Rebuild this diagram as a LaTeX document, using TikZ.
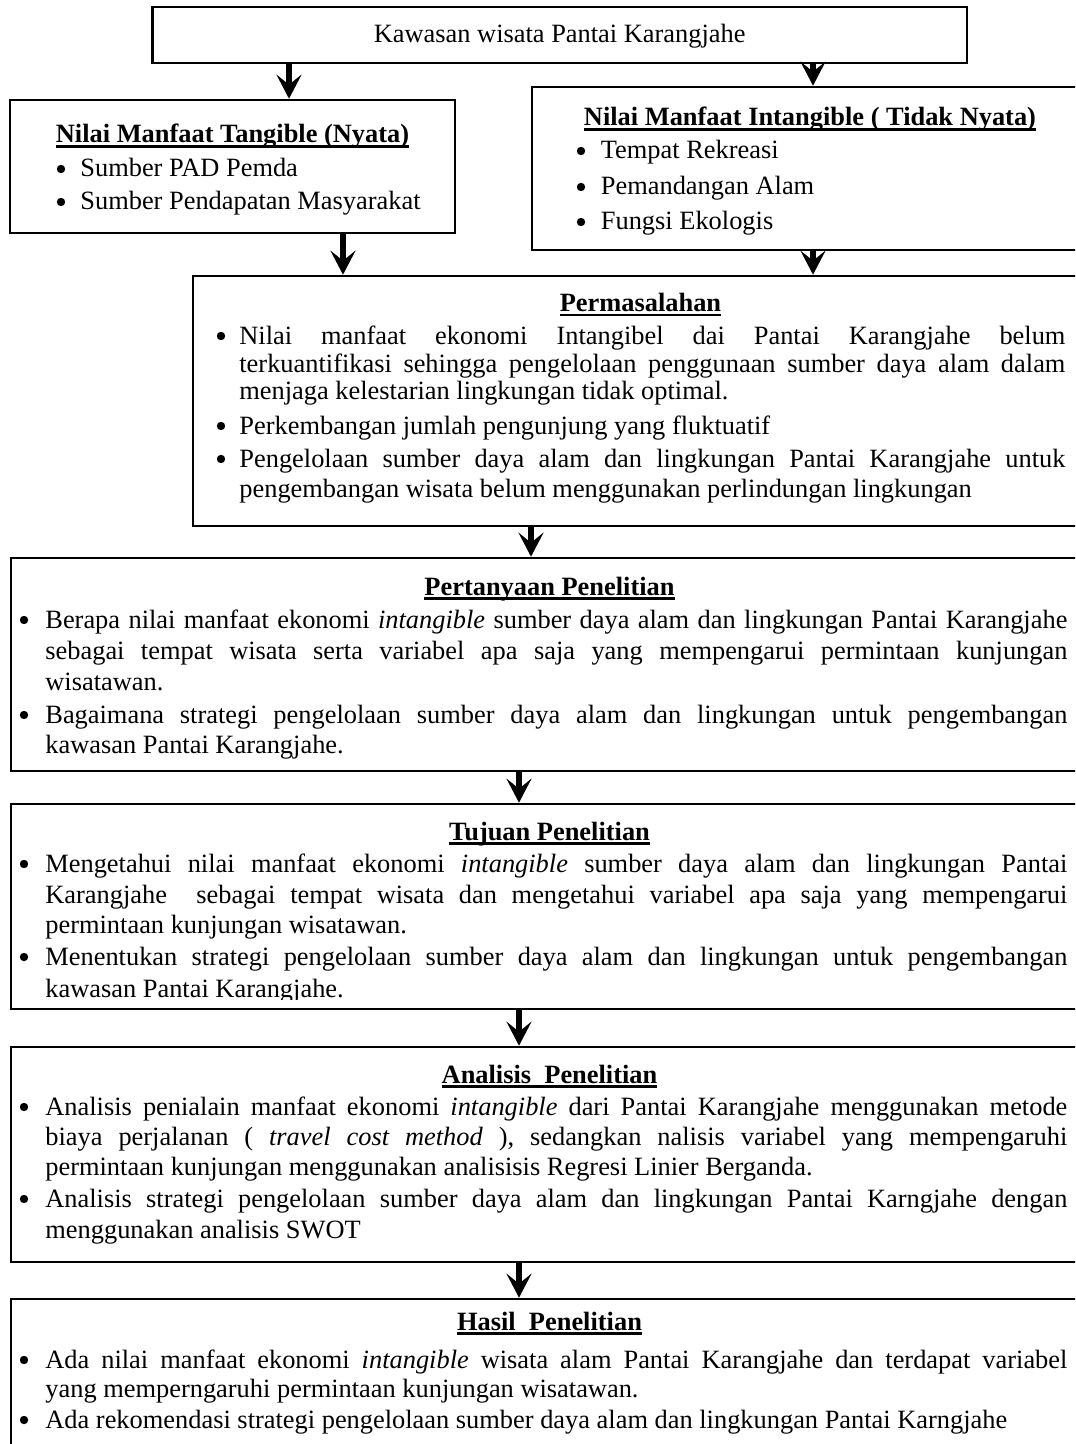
\documentclass[tikz,border=0pt]{standalone}
\usepackage{fontspec}
\setmainfont{Liberation Serif}
\usetikzlibrary{arrows.meta,fit}
\newcommand\myul[1]{\setbox0\hbox{#1}\rlap{\rule[-2.3pt]{\wd0}{1.1pt}}\box0}
\newcommand\jl[2]{\makebox[#1][s]{#2}}
\frenchspacing
\begin{document}
\begin{tikzpicture}[x=0.5pt,y=-0.5pt,
  box/.style={draw, line width=1.3pt, rectangle, inner sep=0pt},
  txt/.style={inner sep=0pt, anchor=base west, font=\fontsize{13.2pt}{15pt}\selectfont},
  ttl/.style={inner sep=0pt, anchor=base, font=\fontsize{13.2pt}{15pt}\selectfont\bfseries},
  bul/.style={inner sep=0pt, anchor=base, font=\fontsize{13.2pt}{15pt}\selectfont},
  dot/.style={circle, fill=black, inner sep=0pt, minimum size=4.2pt},
  arr/.style={line width=2.6pt, -{Stealth[length=12pt,width=12.5pt,inset=5pt]}}
]
\useasboundingbox (0,0) rectangle (1075,1444);
\clip (0,0) rectangle (1075,1444);
\fill[white] (0,0) rectangle (1075,1444);

% boxes
\node[box, fit={(152.5,7) (967,63)}] (t0) {};
\node[box, fit={(10,100) (455,233)}] (b1) {};
\node[box, fit={(532,87) (1088,250)}] (b2) {};
\node[box, fit={(193,276) (1088,526)}] (b3) {};
\node[box, fit={(11,558) (1088,771)}] (b4) {};
\node[box, fit={(11,804) (1088,1009)}] (b5) {};
\node[box, fit={(11,1047) (1088,1262)}] (b6) {};
\node[box, fit={(11,1299) (1088,1520)}] (b7) {};

% arrows
\coordinate (xa1) at (289,0);
\coordinate (xa2) at (813,0);
\coordinate (xa3) at (343,0);
\coordinate (xa5) at (531,0);
\coordinate (xa6) at (519,0);
\draw[arr] (t0.south -| xa1) -- (b1.north -| xa1);
\draw[arr] (t0.south -| xa2) -- (b2.north -| xa2);
\draw[arr] (b1.south -| xa3) -- (b3.north -| xa3);
\draw[arr] (b2.south -| xa2) -- (b3.north -| xa2);
\draw[arr] (b3.south -| xa5) -- (b4.north -| xa5);
\draw[arr] (b4.south -| xa6) -- (b5.north -| xa6);
\draw[arr] (b5.south -| xa6) -- (b6.north -| xa6);
\draw[arr] (b6.south -| xa6) -- (b7.north -| xa6);

% top
\node[bul] (t0t) at (559.7,43) {Kawasan wisata Pantai Karangjahe};

% tangible
\node[ttl] (b1t) at (232.5,143) {\myul{Nilai Manfaat Tangible (Nyata)}};
\node[dot] (b1d1) at (61,169) {};
\node[dot] (b1d2) at (61,202) {};
\node[txt] (b1l1) at (80,177) {Sumber PAD Pemda};
\node[txt] (b1l2) at (80,210) {Sumber Pendapatan Masyarakat};

% intangible
\node[ttl] (b2t) at (810,126) {\myul{Nilai Manfaat Intangible ( Tidak Nyata)}};
\node[dot] (b2d1) at (581,151) {};
\node[dot] (b2d2) at (581,187) {};
\node[dot] (b2d3) at (581,222) {};
\node[txt] (b2l1) at (600.5,159) {Tempat Rekreasi};
\node[txt] (b2l2) at (600.5,195) {Pemandangan Alam};
\node[txt] (b2l3) at (600.5,230) {Fungsi Ekologis};

% permasalahan
\node[ttl] (b3t) at (640.5,311.5) {\myul{Permasalahan}};
\node[dot] (b3d1) at (221,336) {};
\node[dot] (b3d2) at (221,426) {};
\node[dot] (b3d3) at (221,459) {};
\node[txt] (b3l1) at (239,344) {\jl{413pt}{Nilai manfaat ekonomi Intangibel dai Pantai Karangjahe belum}};
\node[txt] (b3l2) at (239,372) {\jl{413pt}{terkuantifikasi sehingga pengelolaan penggunaan sumber daya alam dalam}};
\node[txt] (b3l3) at (239,400) {menjaga kelestarian lingkungan tidak optimal.};
\node[txt] (b3l4) at (239,434) {Perkembangan jumlah pengunjung yang fluktuatif};
\node[txt] (b3l5) at (239,467) {\jl{413pt}{Pengelolaan sumber daya alam dan lingkungan Pantai Karangjahe untuk}};
\node[txt] (b3l6) at (239,497) {pengembangan wisata belum menggunakan perlindungan lingkungan};

% pertanyaan
\node[ttl] (b4t) at (549.5,595) {\myul{Pertanyaan Penelitian}};
\node[dot] (b4d1) at (24,620) {};
\node[dot] (b4d2) at (24,715) {};
\node[txt] (b4l1) at (45,628) {\jl{511pt}{Berapa nilai manfaat ekonomi \textit{intangible} sumber daya alam dan lingkungan Pantai Karangjahe}};
\node[txt] (b4l2) at (45,659) {\jl{511pt}{sebagai tempat wisata serta variabel apa saja yang mempengarui permintaan kunjungan}};
\node[txt] (b4l3) at (45,690) {wisatawan.};
\node[txt] (b4l4) at (45,723) {\jl{511pt}{Bagaimana strategi pengelolaan sumber daya alam dan lingkungan untuk pengembangan}};
\node[txt] (b4l5) at (45,753) {kawasan Pantai Karangjahe.};

% tujuan
\node[ttl] (b5t) at (549.5,840) {\myul{Tujuan Penelitian}};
\node[dot] (b5d1) at (24,864) {};
\node[dot] (b5d2) at (24,957) {};
\node[txt] (b5l1) at (45,872) {\jl{511pt}{Mengetahui nilai manfaat ekonomi \textit{intangible} sumber daya alam dan lingkungan Pantai}};
\node[txt] (b5l2) at (45,903) {\jl{511pt}{Karangjahe\ \ sebagai tempat wisata dan mengetahui variabel apa saja yang mempengarui}};
\node[txt] (b5l3) at (45,933) {permintaan kunjungan wisatawan.};
\node[txt] (b5l4) at (45,965) {\jl{511pt}{Menentukan strategi pengelolaan sumber daya alam dan lingkungan untuk pengembangan}};
\begin{scope}
\clip (20,975) rectangle (1075,999.5);
\node[txt] (b5l5) at (45,997) {kawasan Pantai Karangjahe.};
\end{scope}

% analisis
\node[ttl] (b6t) at (549.5,1083) {\myul{Analisis\ \ Penelitian}};
\node[dot] (b6d1) at (24,1107) {};
\node[dot] (b6d2) at (24,1199) {};
\node[txt] (b6l1) at (45,1115) {\jl{511pt}{Analisis penialain manfaat ekonomi \textit{intangible} dari Pantai Karangjahe menggunakan metode}};
\node[txt] (b6l2) at (45,1145) {\jl{511pt}{biaya perjalanan ( \textit{travel cost method} ), sedangkan nalisis variabel yang mempengaruhi}};
\node[txt] (b6l3) at (45,1175) {permintaan kunjungan menggunakan analisisis Regresi Linier Berganda.};
\node[txt] (b6l4) at (45,1207) {\jl{511pt}{Analisis strategi pengelolaan sumber daya alam dan lingkungan Pantai Karngjahe dengan}};
\node[txt] (b6l5) at (45,1238) {menggunakan analisis SWOT};

% hasil
\node[ttl] (b7t) at (549.5,1330) {\myul{Hasil\ \ Penelitian}};
\node[dot] (b7d1) at (24,1360) {};
\node[dot] (b7d2) at (24,1420) {};
\node[txt] (b7l1) at (45,1368) {\jl{511pt}{Ada nilai manfaat ekonomi \textit{intangible} wisata alam Pantai Karangjahe dan terdapat variabel}};
\node[txt] (b7l2) at (45,1397) {yang memperngaruhi permintaan kunjungan wisatawan.};
\node[txt] (b7l3) at (45,1428) {Ada rekomendasi strategi pengelolaan sumber daya alam dan lingkungan Pantai Karngjahe};
\end{tikzpicture}
\end{document}
